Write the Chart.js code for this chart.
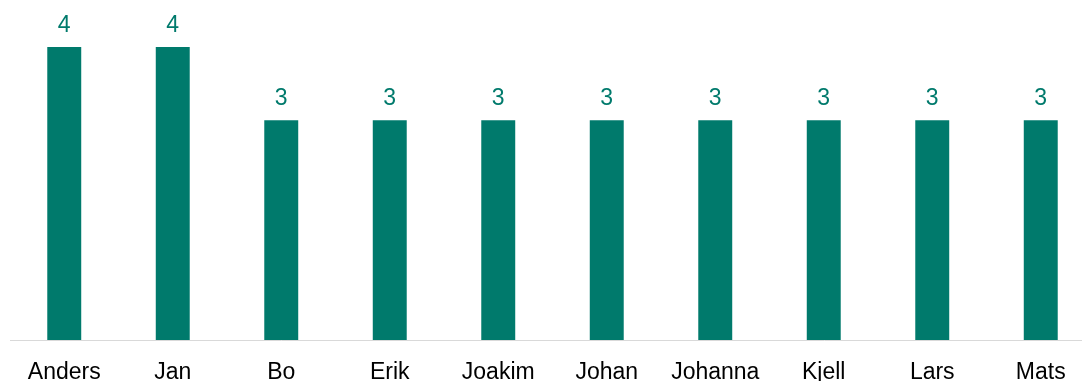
<!DOCTYPE html>
<html>
<head>
<meta charset="utf-8">
<script src="https://cdn.jsdelivr.net/npm/chart.js@4"></script>
<style>
  html, body { margin: 0; padding: 0; background: #fff; overflow: hidden; }
  #wrap { width: 1100px; height: 381px; }
</style>
</head>
<body>
<div id="wrap"><canvas id="chart" width="1100" height="381"></canvas></div>
<script>
const names = ['Anders', 'Jan', 'Bo', 'Erik', 'Joakim', 'Johan', 'Johanna', 'Kjell', 'Lars', 'Mats'];
const counts = [4, 4, 3, 3, 3, 3, 3, 3, 3, 3];

const teal = '#007a6c';

const valueLabels = {
  id: 'valueLabels',
  afterDatasetsDraw(chart) {
    const ctx = chart.ctx;
    const meta = chart.getDatasetMeta(0);
    ctx.save();
    ctx.fillStyle = teal;
    ctx.font = '23px "Liberation Sans", Arial, sans-serif';
    ctx.textAlign = 'center';
    ctx.textBaseline = 'alphabetic';
    meta.data.forEach((bar, i) => {
      ctx.fillText(String(counts[i]), bar.x, bar.y - 15);
    });
    ctx.restore();
  },
};

new Chart(document.querySelector('#chart'), {
  type: 'bar',
  data: {
    labels: names,
    datasets: [{
      data: counts,
      backgroundColor: teal,
      barPercentage: 0.313,
      categoryPercentage: 1,
    }],
  },
  options: {
    responsive: false,
    animation: false,
    layout: { padding: { top: 47, left: 10, right: 5, bottom: 0 } },
    plugins: { legend: { display: false }, tooltip: { enabled: false } },
    scales: {
      x: {
        grid: { display: false },
        border: { color: '#d9d9d9', width: 1 },
        ticks: {
          color: '#000',
          padding: 11,
          maxRotation: 0,
          font: { family: '"Liberation Sans", Arial, sans-serif', size: 23 },
        },
        afterFit(scale) { scale.height = 41; },
      },
      y: {
        display: false,
        min: 0,
        max: 4,
      },
    },
  },
  plugins: [valueLabels],
});
</script>
</body>
</html>
